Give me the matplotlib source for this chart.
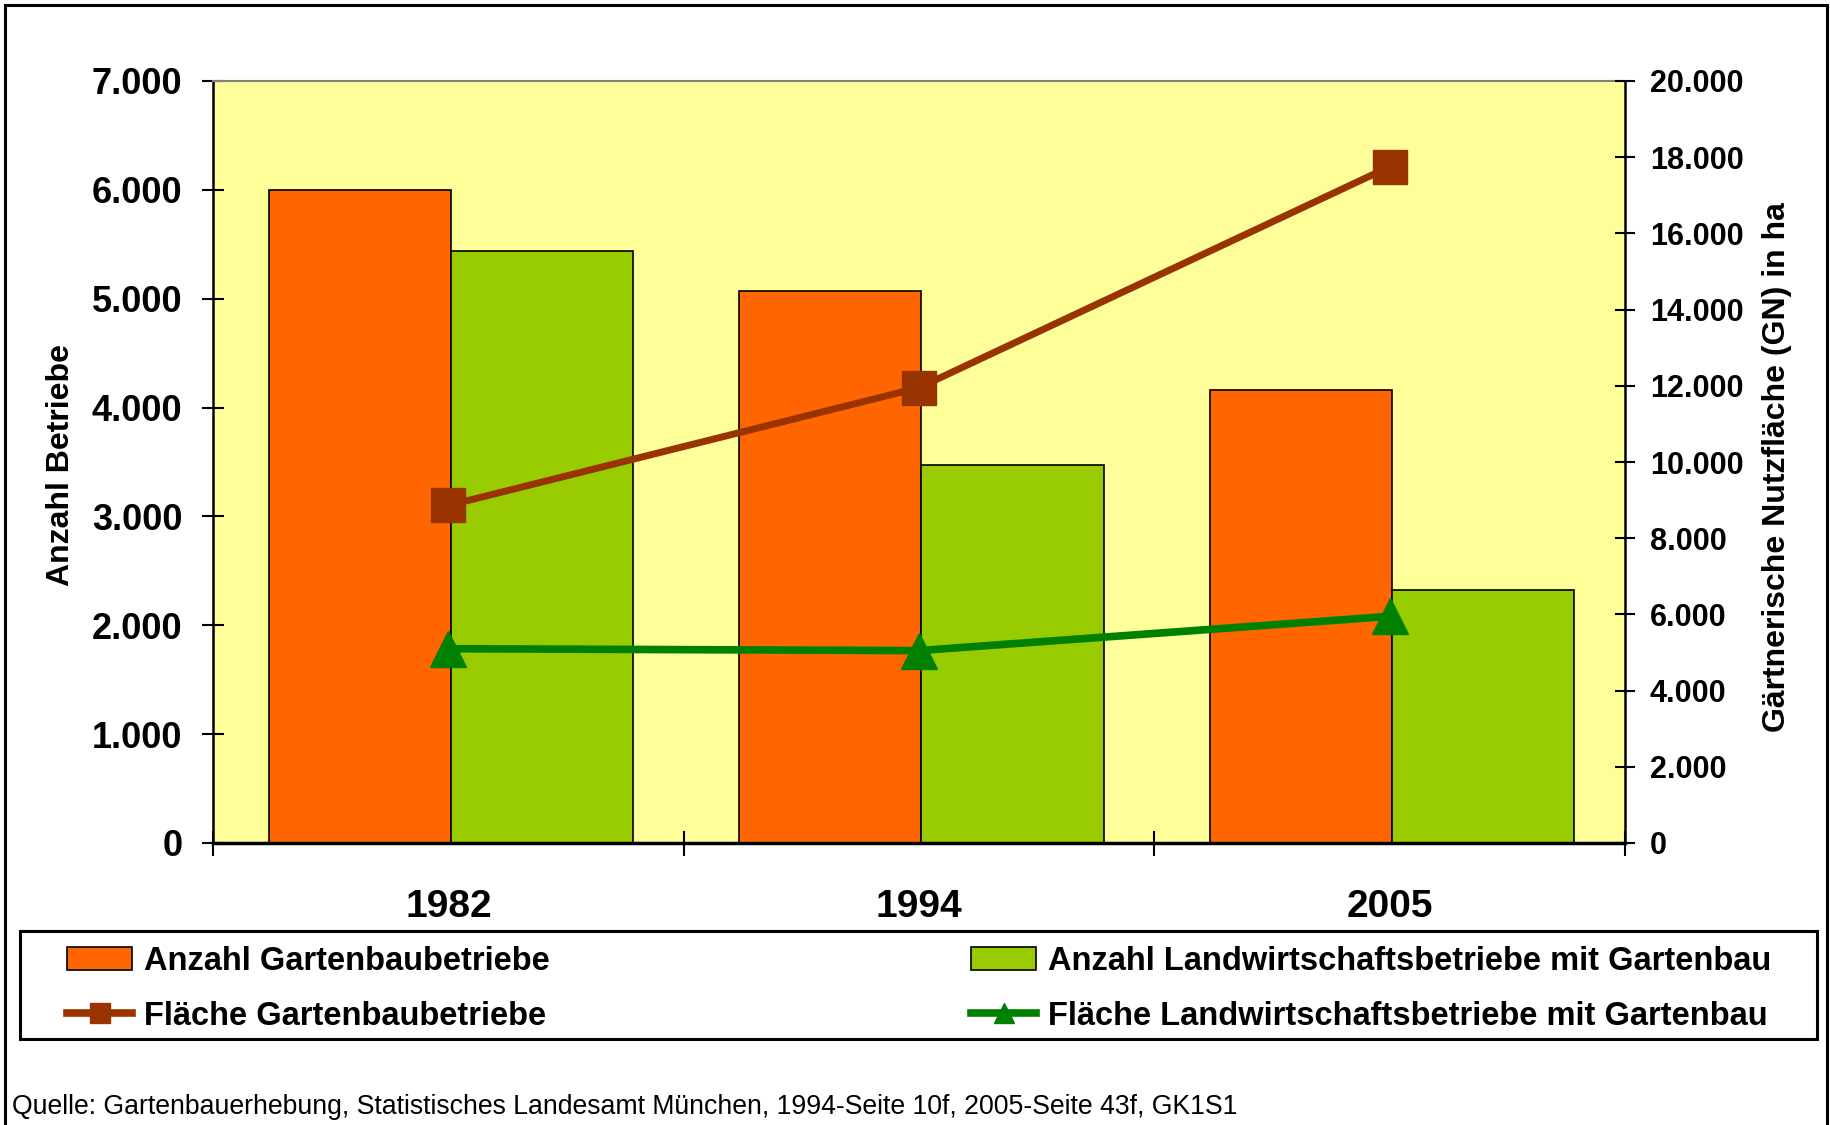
import matplotlib
matplotlib.use('Agg')
import matplotlib.pyplot as plt
import numpy as np
from matplotlib.patches import Patch, Rectangle
from matplotlib.lines import Line2D
from matplotlib.ticker import FuncFormatter, MultipleLocator

plt.rcParams['font.family'] = ['Liberation Sans', 'DejaVu Sans']

years = ['1982', '1994', '2005']
anzahl_garten = [6000, 5070, 4160]
anzahl_landw = [5440, 3470, 2320]
flaeche_garten = [8860, 11950, 17750]
flaeche_landw = [5100, 5050, 5950]

ORANGE = '#FF6600'
LGREEN = '#99CC00'
BROWN = '#993300'
DGREEN = '#008000'
BG = '#FFFF99'

W, H = 1831, 1125
fig = plt.figure(figsize=(W / 100, H / 100), dpi=100)


def px(x0, y0, x1, y1):
    # pixel box -> figure fraction [left, bottom, width, height]
    return [x0 / W, 1 - y1 / H, (x1 - x0) / W, (y1 - y0) / H]


ax = fig.add_axes(px(213, 81, 1625, 843))
ax.set_facecolor(BG)

x = np.arange(len(years))
bw = 0.387
ax.bar(x - bw / 2 + 0.005, anzahl_garten, bw, color=ORANGE, edgecolor='black', linewidth=1.2, zorder=2)
ax.bar(x + bw / 2 + 0.005, anzahl_landw, bw, color=LGREEN, edgecolor='black', linewidth=1.2, zorder=2)

ax.set_xlim(-0.5, 2.5)
ax.set_ylim(0, 7000)
ax.yaxis.set_major_locator(MultipleLocator(1000))

thousands = FuncFormatter(lambda v, p: f"{int(round(v)):,}".replace(",", "."))
ax.yaxis.set_major_formatter(thousands)

ax.set_xticks([-0.5, 0.5, 1.5, 2.5])
ax.set_xticklabels([])
ax.set_xticks(x, minor=True)
ax.set_xticklabels(years, minor=True, fontsize=28, fontweight='bold')
ax.tick_params(axis='x', which='major', direction='inout', length=18, width=1.5)
ax.tick_params(axis='x', which='minor', length=0, pad=33)
ax.tick_params(axis='y', direction='inout', length=16, width=1.5, labelsize=26, pad=14)
for lab in ax.get_yticklabels():
    lab.set_fontweight('bold')

ax.spines['top'].set_color('#808080')
ax.spines['top'].set_linewidth(1.5)
ax.spines['left'].set_linewidth(1.8)
ax.spines['bottom'].set_linewidth(2.5)
ax.spines['right'].set_visible(False)

ax2 = ax.twinx()
ax2.plot(x, flaeche_garten, color=BROWN, lw=5, marker='s', ms=24, zorder=3)
ax2.plot(x, flaeche_landw, color=DGREEN, lw=5.5, marker='^', ms=26, zorder=3)
ax2.set_ylim(0, 20000)
ax2.yaxis.set_major_locator(MultipleLocator(2000))
ax2.yaxis.set_major_formatter(thousands)
ax2.tick_params(axis='y', direction='inout', length=14, width=1.5, labelsize=22, pad=11)
for lab in ax2.get_yticklabels():
    lab.set_fontweight('bold')
for s in ['top', 'left', 'bottom']:
    ax2.spines[s].set_visible(False)
ax2.spines['right'].set_linewidth(1.8)

fig.text(61 / W, 1 - 465 / H, 'Anzahl Betriebe', rotation=90, ha='center', va='center',
         fontsize=23, fontweight='bold')
fig.text(1777 / W, 1 - 467 / H, 'Gärtnerische Nutzfläche (GN) in ha', rotation=90,
         ha='center', va='center', fontsize=23, fontweight='bold')

# legend frame drawn separately, legend itself without frame
fig.patches.append(Rectangle((20 / W, 1 - 1039 / H), 1797 / W, 108 / H, transform=fig.transFigure,
                             facecolor='white', edgecolor='black', linewidth=2.2, zorder=0))
handles = [
    Patch(facecolor=ORANGE, edgecolor='black', linewidth=1.2),
    Line2D([], [], color=BROWN, lw=5.5, marker='s', ms=14),
    Patch(facecolor=LGREEN, edgecolor='black', linewidth=1.2),
    Line2D([], [], color=DGREEN, lw=5.5, marker='^', ms=15),
]
labels = ['Anzahl Gartenbaubetriebe', 'Fläche Gartenbaubetriebe',
          'Anzahl Landwirtschaftsbetriebe mit Gartenbau', 'Fläche Landwirtschaftsbetriebe mit Gartenbau']
fig.legend(handles, labels, ncol=2, loc='center', mode='expand', frameon=False,
           bbox_to_anchor=(67 / W, 1 - 1043 / H, (1771 - 67) / W, 108 / H),
           prop={'weight': 'bold', 'size': 23.5}, borderpad=0, borderaxespad=0,
           handlelength=2.0, handletextpad=0.35, labelspacing=0.72)

fig.text(12 / W, 1 - 1107 / H,
         'Quelle: Gartenbauerhebung, Statistisches Landesamt München, 1994-Seite 10f, 2005-Seite 43f, GK1S1',
         ha='left', va='center', fontsize=19.2)

# outer frame, open at the bottom edge
fig.patches.append(Rectangle((5 / W, -0.05), 1822 / W, 1.05 - 5 / H, transform=fig.transFigure,
                             facecolor='none', edgecolor='black', linewidth=2.2, zorder=0))

fig.savefig('out.png', dpi=100)
